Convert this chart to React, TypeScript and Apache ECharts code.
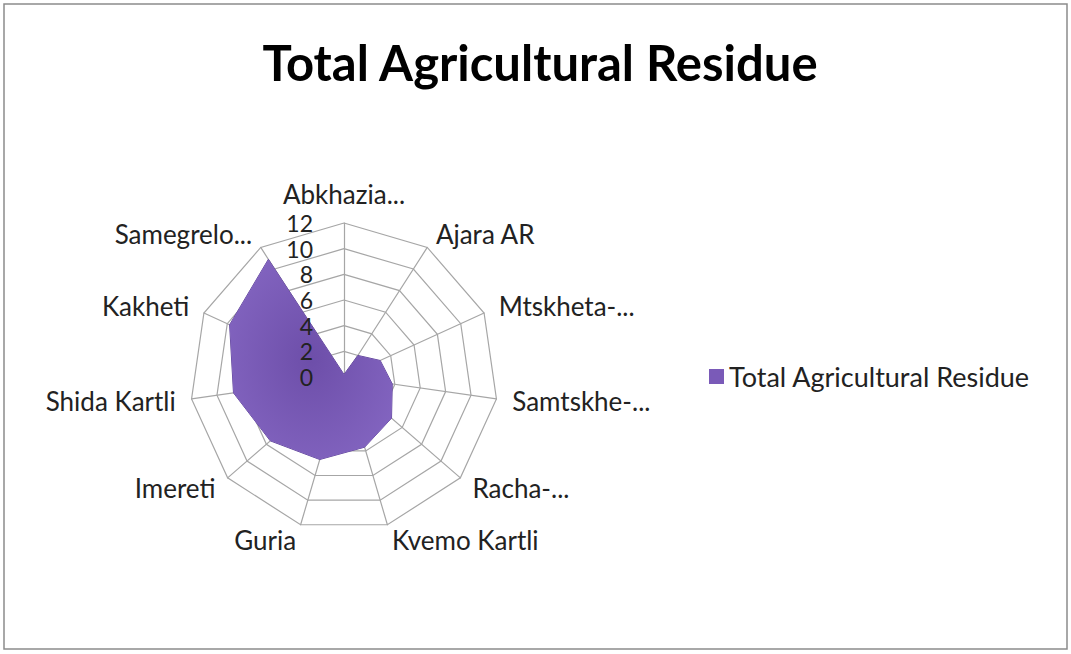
import React, { useEffect, useRef } from "react";
import * as echarts from "echarts";

// categories in clockwise order starting at the top
const categories = [
  "Abkhazia...",
  "Ajara AR",
  "Mtskheta-...",
  "Samtskhe-...",
  "Racha-...",
  "Kvemo Kartli",
  "Guria",
  "Imereti",
  "Shida Kartli",
  "Kakheti",
  "Samegrelo...",
];
const values = [0.2, 2.0, 3.1, 3.8, 4.9, 5.7, 6.7, 7.6, 8.7, 9.8, 10.9];
const seriesName = "Total Agricultural Residue";
const axisMax = 12;
const axisStep = 2;

export default function App() {
  const ref = useRef<HTMLDivElement>(null);
  useEffect(() => {
    document.body.style.margin = "0";
    const chart = echarts.init(ref.current!, null, { renderer: "svg" });
    const font = "Lato, 'Open Sans', sans-serif";
    // ECharts radar runs counter-clockwise; reorder to draw clockwise
    const order = [0, ...categories.slice(1).map((_, i) => categories.length - 1 - i)];
    const cats = order.map((i) => categories[i]);
    const vals = order.map((i) => values[i]);
    chart.setOption({
      animation: false,
      backgroundColor: "#ffffff",
      title: {
        text: "Total Agricultural Residue",
        left: 535,
        top: 32,
        textAlign: "center",
        textStyle: { fontFamily: font, fontSize: 49, fontWeight: "bold", color: "#000" },
      },
      legend: {
        data: [seriesName],
        left: 704,
        top: 358,
        icon: "rect",
        itemWidth: 15,
        itemHeight: 15,
        itemGap: 7,
        textStyle: { fontFamily: font, fontSize: 27, color: "#222" },
      },
      graphic: [
        {
          type: "rect",
          shape: { x: 4, y: 4, width: 1063, height: 645 },
          style: { fill: "none", stroke: "#8c8c8c", lineWidth: 1.5 },
          silent: true,
        },
      ],
      radar: {
        center: [344, 377],
        radius: 154,
        startAngle: 90,
        shape: "polygon",
        splitNumber: axisMax / axisStep,
        indicator: cats.map((name) => ({ name, min: 0, max: axisMax })),
        axisName: { color: "#222", fontFamily: font, fontSize: 26 },
        nameGap: 16,
        splitLine: { lineStyle: { color: "#a6a6a6", width: 1.2 } },
        splitArea: { show: false },
        axisLine: { lineStyle: { color: "#a6a6a6", width: 1.2 } },
      },
      polar: { center: [344, 377], radius: 154 },
      angleAxis: {
        startAngle: 90,
        show: false,
        min: 0,
        max: 360,
      },
      radiusAxis: {
        min: 0,
        max: axisMax,
        interval: axisStep,
        z: 20,
        axisLine: { show: false },
        axisTick: { show: false },
        splitLine: { show: false },
        axisLabel: {
          show: true,
          showMinLabel: true,
          showMaxLabel: true,
          fontFamily: font,
          fontSize: 23,
          color: "#222",
          margin: 31,
        },
      },
      series: [
        {
          name: seriesName,
          type: "radar",
          symbol: "none",
          z: 2,
          data: [{ value: vals, name: seriesName }],
          itemStyle: { color: "#7a5ab8" },
          lineStyle: { color: "#5e4396", width: 1 },
          areaStyle: {
            color: {
              type: "radial",
              x: 0.5,
              y: 0.5,
              r: 0.8,
              colorStops: [
                { offset: 0, color: "#6d4ea9" },
                { offset: 1, color: "#8a6cc8" },
              ],
            },
            opacity: 1,
          },
        },
      ],
    });
    return () => chart.dispose();
  }, []);
  return <div ref={ref} style={{ width: 1071, height: 654 }} />;
}
